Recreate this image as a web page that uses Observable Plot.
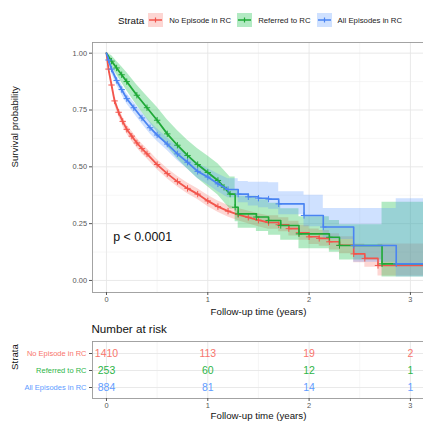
<!DOCTYPE html>
<html>
<head>
<meta charset="utf-8">
<script src="https://cdn.jsdelivr.net/npm/d3@7"></script>
<script src="https://cdn.jsdelivr.net/npm/@observablehq/plot@0.6"></script>
<style>
  html, body { margin: 0; padding: 0; background: #fff; }
  #root { position: relative; width: 423px; height: 422px; overflow: hidden; background: #fff;
          font-family: "Liberation Sans", Arial, sans-serif; }
  #legend { position: absolute; left: 118px; top: 13px; height: 14px; display: flex; align-items: center; white-space: nowrap; }
  #legend .title { font-size: 9.8px; color: #111; margin-right: 4px; }
  #legend .lab { font-size: 7.8px; color: #222; margin-left: 6px; margin-right: 6px; }
  #legend svg { display: block; }
  #main { position: absolute; left: 0; top: 30px; width: 440px; }
  #risk { position: absolute; left: 0; top: 320px; width: 440px; }
  #main svg, #risk svg { max-width: none !important; }
</style>
</head>
<body>
<div id="root">
  <div id="legend"></div>
  <div id="main"></div>
  <div id="risk"></div>
</div>
<script>
// ---------------- data ----------------
const strata = ["No Episode in RC", "Referred to RC", "All Episodes in RC"];
const lineColors = ["#F2554C", "#1FA937", "#4A84F2"];
const bandColors = ["#F8766D", "#00BA38", "#619CFF"];
const textColors = ["#F8766D", "#2DB548", "#619CFF"];

// No Episode in RC
const redT  = [0, 0.02, 0.05, 0.08, 0.12, 0.16, 0.20, 0.25, 0.30, 0.35, 0.40, 0.50, 0.60, 0.70, 0.80, 0.90, 1.00, 1.10, 1.20, 1.30, 1.40, 1.50, 1.60, 1.70, 1.80, 1.90, 2.00, 2.10, 2.20, 2.30, 2.44, 2.55, 2.68];
const redS  = [1.00, 0.93, 0.86, 0.79, 0.74, 0.70, 0.665, 0.635, 0.605, 0.58, 0.557, 0.51, 0.47, 0.435, 0.405, 0.38, 0.35, 0.325, 0.305, 0.29, 0.278, 0.265, 0.255, 0.245, 0.228, 0.21, 0.192, 0.185, 0.17, 0.155, 0.117, 0.097, 0.066];
const redLo = [1.00, 0.918, 0.845, 0.773, 0.721, 0.68, 0.645, 0.614, 0.584, 0.558, 0.535, 0.488, 0.447, 0.412, 0.381, 0.356, 0.325, 0.30, 0.279, 0.263, 0.25, 0.236, 0.225, 0.214, 0.196, 0.177, 0.158, 0.15, 0.134, 0.118, 0.078, 0.058, 0.02];
const redHi = [1.00, 0.942, 0.875, 0.807, 0.759, 0.72, 0.685, 0.656, 0.626, 0.602, 0.579, 0.532, 0.493, 0.458, 0.429, 0.404, 0.375, 0.35, 0.331, 0.317, 0.306, 0.294, 0.285, 0.276, 0.26, 0.243, 0.226, 0.22, 0.206, 0.192, 0.16, 0.15, 0.16];

// Referred to RC
const grnT  = [0, 0.05, 0.10, 0.15, 0.20, 0.30, 0.40, 0.50, 0.60, 0.70, 0.80, 0.90, 1.00, 1.10, 1.16, 1.22, 1.27, 1.30, 1.48, 1.60, 1.72, 1.90, 2.20, 2.30, 2.72];
const grnS  = [1.00, 0.965, 0.935, 0.905, 0.875, 0.815, 0.76, 0.705, 0.645, 0.595, 0.55, 0.51, 0.475, 0.44, 0.41, 0.38, 0.322, 0.293, 0.279, 0.264, 0.242, 0.205, 0.19, 0.154, 0.073];
const grnLo = [1.00, 0.94, 0.905, 0.87, 0.835, 0.77, 0.71, 0.652, 0.588, 0.536, 0.49, 0.449, 0.412, 0.376, 0.345, 0.314, 0.258, 0.23, 0.215, 0.199, 0.177, 0.14, 0.124, 0.09, 0.015];
const grnHi = [1.00, 0.99, 0.965, 0.94, 0.915, 0.86, 0.81, 0.762, 0.707, 0.66, 0.617, 0.58, 0.548, 0.514, 0.485, 0.455, 0.398, 0.37, 0.355, 0.34, 0.315, 0.28, 0.264, 0.245, 0.344];

// All Episodes in RC
const bluT  = [0, 0.02, 0.05, 0.10, 0.15, 0.20, 0.27, 0.35, 0.43, 0.50, 0.60, 0.70, 0.80, 0.90, 1.00, 1.10, 1.20, 1.30, 1.40, 1.50, 1.60, 1.70, 1.95, 2.14, 2.44, 2.86];
const bluS  = [1.00, 0.97, 0.93, 0.88, 0.84, 0.80, 0.76, 0.715, 0.672, 0.64, 0.60, 0.557, 0.52, 0.48, 0.455, 0.425, 0.40, 0.38, 0.368, 0.362, 0.358, 0.337, 0.286, 0.235, 0.154, 0.073];
const bluLo = [1.00, 0.958, 0.912, 0.86, 0.818, 0.777, 0.736, 0.69, 0.646, 0.613, 0.572, 0.528, 0.49, 0.449, 0.422, 0.39, 0.364, 0.342, 0.328, 0.32, 0.313, 0.289, 0.236, 0.18, 0.08, 0.015];
const bluHi = [1.00, 0.982, 0.948, 0.90, 0.862, 0.823, 0.784, 0.74, 0.698, 0.667, 0.628, 0.588, 0.553, 0.515, 0.493, 0.468, 0.447, 0.435, 0.432, 0.432, 0.43, 0.39, 0.375, 0.317, 0.317, 0.36];

// where each curve's dense (visually continuous) part ends and visible steps begin
const denseUntil = [1.6, 1.22, 1.2];
const followEnd = 3.3;  // curves continue flat past the right edge

// Risk table
const riskTimes = [0, 1, 2, 3];
const riskNoEpisode = [1410, 113, 19, 2];
const riskReferred  = [253, 60, 12, 1];
const riskAll       = [884, 81, 14, 1];

// Axis ticks
const xMajor = [0, 1, 2, 3];
const xMinor = [0.5, 1.5, 2.5];
const yMajor = [0, 0.25, 0.5, 0.75, 1];
const yMinor = [0.125, 0.375, 0.625, 0.875];

const pvalText = "p < 0.0001";
const pvalX = 0.066, pvalY = 0.19;

const xTitle = "Follow-up time (years)";
const yTitle = "Survival probability";

// ---------------- build ----------------
const FONT = "Liberation Sans, Arial, sans-serif";
const xDomain = [-0.138, 3.297];

function series(T, S, L, H) {
  const rows = T.map((t, i) => ({t, s: S[i], lo: L[i], hi: H[i]}));
  const last = rows[rows.length - 1];
  rows.push({...last, t: followEnd});
  return rows;
}
const curves = [
  series(redT, redS, redLo, redHi),
  series(grnT, grnS, grnLo, grnHi),
  series(bluT, bluS, bluLo, bluHi)
];
const risks = [riskNoEpisode, riskReferred, riskAll];

// Legend
const legend = document.getElementById("legend");
legend.innerHTML = `<span class="title">Strata</span>` + strata.map((s, i) =>
  `<svg width="15" height="14"><rect x="0" y="0" width="15" height="14" fill="${bandColors[i]}" fill-opacity="0.3"/>` +
  `<line x1="1" x2="14" y1="7" y2="7" stroke="${lineColors[i]}" stroke-width="1.5"/>` +
  `<line x1="7.5" x2="7.5" y1="4.5" y2="9.5" stroke="${lineColors[i]}" stroke-width="1.2"/></svg>` +
  `<span class="lab">${s}</span>`).join("");

// Main plot
const mainMarks = [
  Plot.ruleX(xMinor, {stroke: "#f0f0f0", strokeWidth: 0.6}),
  Plot.ruleY(yMinor, {stroke: "#f0f0f0", strokeWidth: 0.6}),
  Plot.ruleX(xMajor, {stroke: "#e6e6e6", strokeWidth: 0.9}),
  Plot.ruleY(yMajor, {stroke: "#e6e6e6", strokeWidth: 0.9})
];
const parts = curves.map((rows, i) => ({
  dense: rows.filter(d => d.t <= denseUntil[i]),
  steps: rows.filter(d => d.t >= denseUntil[i])
}));
parts.forEach((p, i) => {
  mainMarks.push(Plot.areaY(p.dense, {x: "t", y1: "lo", y2: "hi", fill: bandColors[i], fillOpacity: 0.3, curve: "linear", clip: true}));
  mainMarks.push(Plot.areaY(p.steps, {x: "t", y1: "lo", y2: "hi", fill: bandColors[i], fillOpacity: 0.3, curve: "step-after", clip: true}));
});
parts.forEach((p, i) => {
  mainMarks.push(Plot.line(p.dense, {x: "t", y: "s", stroke: lineColors[i], strokeWidth: 1.8, curve: "linear", clip: true}));
  mainMarks.push(Plot.line(p.steps, {x: "t", y: "s", stroke: lineColors[i], strokeWidth: 1.6, curve: "step-after", clip: true}));
  mainMarks.push(Plot.dot(curves[i].filter(d => d.t > 0 && d.t < followEnd), {x: "t", y: "s", symbol: "plus", r: 2.2, stroke: lineColors[i], strokeWidth: 1, clip: true}));
});
mainMarks.push(
  Plot.frame({stroke: "#9a9a9a", strokeWidth: 0.9}),
  Plot.axisX({ticks: xMajor, tickSize: 3, tickPadding: 1.5, fontSize: 7.4, color: "#555", label: null, tickFormat: d3.format("d")}),
  Plot.axisY({ticks: yMajor, tickSize: 3, tickPadding: 2.5, fontSize: 7.4, color: "#555", label: null, tickFormat: d3.format(".2f")}),
  Plot.text([xTitle], {frameAnchor: "bottom", dy: 19, dx: -8, fontSize: 9.7, fill: "#111", lineAnchor: "middle"}),
  Plot.text([yTitle], {frameAnchor: "left", dx: -78, rotate: -90, fontSize: 9.7, fill: "#111", lineAnchor: "middle"}),
  Plot.text([pvalText], {x: () => pvalX, y: () => pvalY, textAnchor: "start", fontSize: 12.4, fill: "#111", lineAnchor: "middle"})
);

const mainPlot = Plot.plot({
  width: 440, height: 290,
  marginTop: 12, marginBottom: 28, marginLeft: 92, marginRight: 0,
  x: {domain: xDomain},
  y: {domain: [-0.053, 1.047]},
  style: {fontFamily: FONT, background: "transparent", overflow: "visible", maxWidth: "none"},
  marks: mainMarks
});
document.getElementById("main").appendChild(mainPlot);

// Risk table
const riskMarks = [
  Plot.ruleX(xMinor, {stroke: "#f0f0f0", strokeWidth: 0.6}),
  Plot.ruleX(xMajor, {stroke: "#e6e6e6", strokeWidth: 0.9}),
  Plot.ruleY(strata, {y: d => d, stroke: "#e6e6e6", strokeWidth: 0.9})
];
risks.forEach((vals, i) => {
  const rows = riskTimes.map((t, j) => ({t, n: vals[j], strata: strata[i]}));
  riskMarks.push(Plot.text(rows, {x: "t", y: "strata", text: d => String(d.n), fill: textColors[i], fontSize: 10.5, lineAnchor: "middle"}));
  riskMarks.push(Plot.text([strata[i]], {y: d => d, frameAnchor: "left", dx: -6, textAnchor: "end", fill: textColors[i], fontSize: 7.5, lineAnchor: "middle"}));
});
riskMarks.push(
  Plot.frame({stroke: "#9a9a9a", strokeWidth: 0.9}),
  Plot.axisX({ticks: xMajor, tickSize: 3, tickPadding: 1.5, fontSize: 7.4, color: "#555", label: null, tickFormat: d3.format("d")}),
  Plot.axisY({ticks: strata, tickSize: 3, tickFormat: () => "", color: "#555", label: null}),
  Plot.text(["Number at risk"], {frameAnchor: "top-left", dy: -12, dx: -1, textAnchor: "start", fontSize: 11.6, fill: "#111", lineAnchor: "middle"}),
  Plot.text([xTitle], {frameAnchor: "bottom", dy: 17, dx: -8, fontSize: 9.7, fill: "#111", lineAnchor: "middle"}),
  Plot.text(["Strata"], {frameAnchor: "left", dx: -78, rotate: -90, fontSize: 9.7, fill: "#111", lineAnchor: "middle"})
);

const riskPlot = Plot.plot({
  width: 440, height: 102,
  marginTop: 21, marginBottom: 24, marginLeft: 92, marginRight: 0,
  x: {domain: xDomain},
  y: {type: "point", domain: strata, padding: 0.6},
  style: {fontFamily: FONT, background: "transparent", overflow: "visible", maxWidth: "none"},
  marks: riskMarks
});
document.getElementById("risk").appendChild(riskPlot);
</script>
</body>
</html>
